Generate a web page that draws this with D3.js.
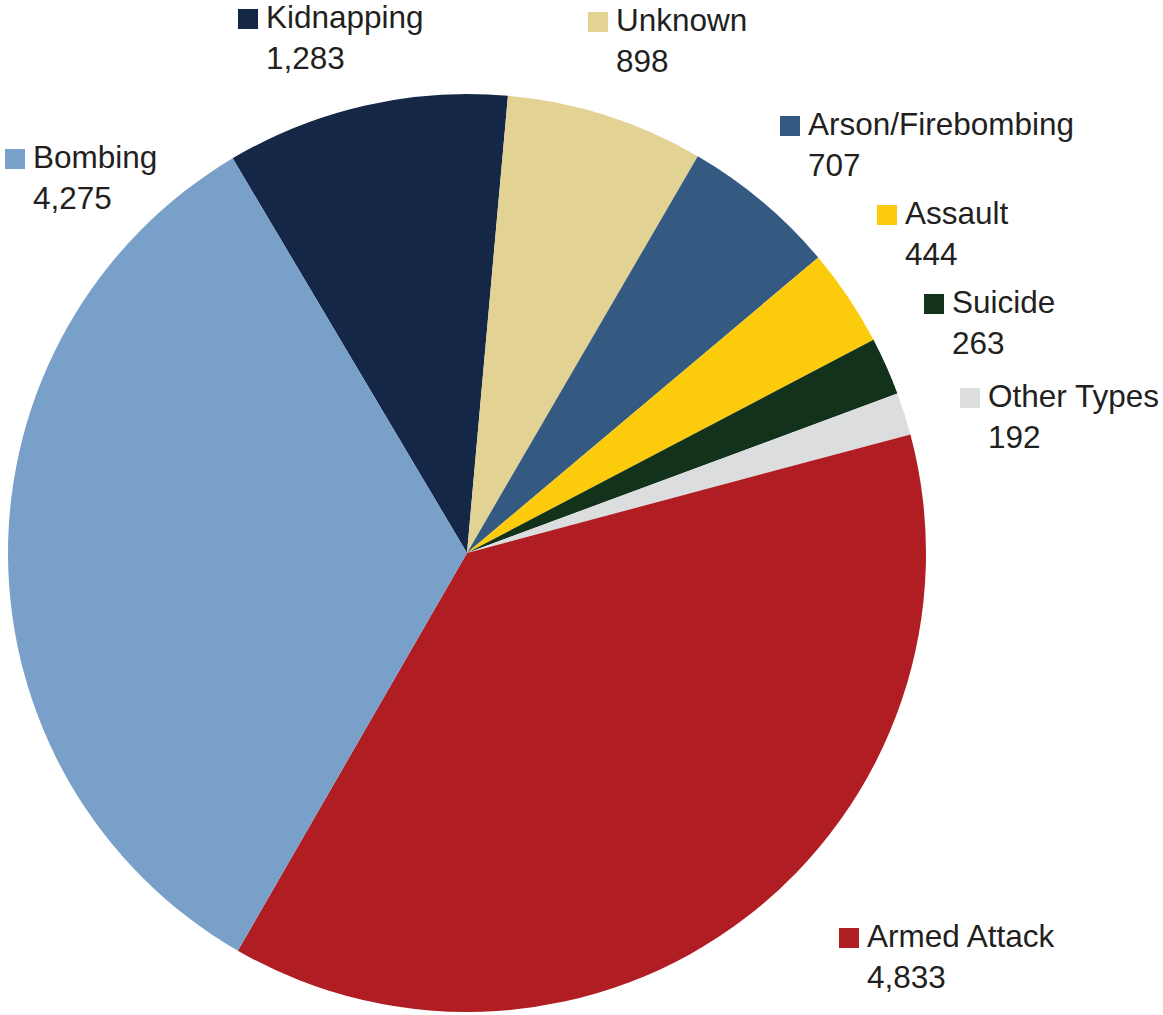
<!DOCTYPE html>
<html>
<head>
<meta charset="utf-8">
<script src="https://cdn.jsdelivr.net/npm/d3@7"></script>
<style>
  html, body { margin: 0; padding: 0; background: #ffffff; }
  svg { display: block; }
  text { font-family: "Liberation Sans", Arial, Helvetica, sans-serif; fill: #231f20; }
</style>
</head>
<body>
<svg id="chart" width="1163" height="1015"></svg>
<script>
// Attack types and incident counts, in drawing order (clockwise)
const categories = ["Kidnapping", "Unknown", "Arson/Firebombing", "Assault", "Suicide", "Other Types", "Armed Attack", "Bombing"];
const values = [1283, 898, 707, 444, 263, 192, 4833, 4275];
const colors = ["#152746", "#e2d294", "#355a82", "#fccb0b", "#13321b", "#dcdddf", "#b01e23", "#79a0c8"];

// Label anchor points (left edge of the swatch, baseline of the name line)
const labelAnchors = {
  "Kidnapping":        [238, 28],
  "Unknown":           [588, 31],
  "Arson/Firebombing": [780, 135],
  "Assault":           [877, 224],
  "Suicide":           [924, 313],
  "Other Types":       [960, 407],
  "Armed Attack":      [839, 947],
  "Bombing":           [5, 168]
};

const svg = d3.select("#chart");
const cx = 467, cy = 553, radius = 459;

const data = categories.map((c, i) => ({ name: c, value: values[i], color: colors[i] }));

const startDeg = -30.7;
const pie = d3.pie()
  .value(d => d.value)
  .sort(null)
  .startAngle(startDeg * Math.PI / 180)
  .endAngle((startDeg + 360) * Math.PI / 180);

const arc = d3.arc().innerRadius(0).outerRadius(radius);

svg.append("g")
  .attr("transform", `translate(${cx},${cy})`)
  .selectAll("path")
  .data(pie(data))
  .join("path")
  .attr("d", arc)
  .attr("fill", d => d.data.color);

const fmt = d3.format(",");
const fontSize = 31.5, sw = 20, lineGap = 41;

const labels = svg.append("g")
  .selectAll("g")
  .data(data)
  .join("g")
  .attr("transform", d => `translate(${labelAnchors[d.name][0]},${labelAnchors[d.name][1]})`);

labels.append("rect")
  .attr("x", 0)
  .attr("y", -sw + 1)
  .attr("width", sw)
  .attr("height", sw)
  .attr("fill", d => d.color);

labels.append("text")
  .attr("x", sw + 8)
  .attr("y", 0)
  .attr("font-size", fontSize)
  .text(d => d.name);

labels.append("text")
  .attr("x", sw + 8)
  .attr("y", lineGap)
  .attr("font-size", fontSize)
  .text(d => fmt(d.value));
</script>
</body>
</html>
